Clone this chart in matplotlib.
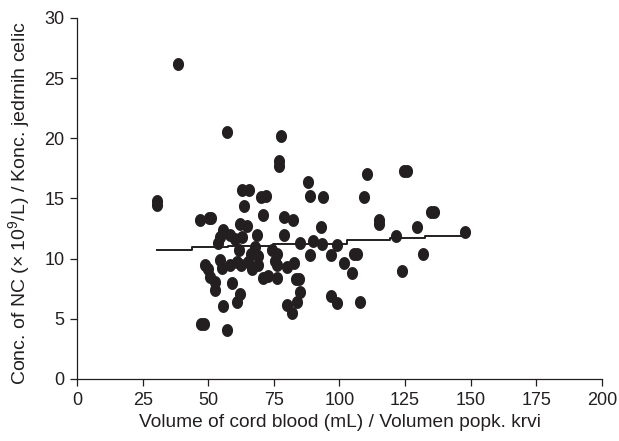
import numpy as np
import matplotlib
matplotlib.use("Agg")
import matplotlib.pyplot as plt
from matplotlib.path import Path

plt.rcParams['font.family'] = ['Liberation Sans', 'DejaVu Sans']
plt.rcParams['mathtext.fontset'] = 'custom'
plt.rcParams['mathtext.rm'] = 'Liberation Sans'
plt.rcParams['mathtext.it'] = 'Liberation Sans:italic'

# cord blood volume (mL) and nucleated cell concentration (x10^9/L)
volume = [
    38.5, 57.0, 77.6, 76.8, 76.8, 30.6, 30.6, 62.8, 65.5, 70.2,
    72.0, 87.9, 88.6, 93.7, 110.5, 124.6, 125.6, 109.2, 115.0, 129.5,
    135.0, 136.0, 147.8, 121.5, 131.8, 123.9, 105.5, 106.5, 101.7, 104.8,
    107.7, 98.9, 96.6, 63.6, 71.0, 79.0, 82.2, 46.9, 50.2, 51.2,
    62.1, 64.6, 68.4, 79.0, 55.7, 54.5, 58.3, 60.2, 93.0, 53.8,
    61.8, 67.8, 74.2, 76.1, 84.8, 90.0, 93.2, 98.9, 88.7, 96.7,
    82.7, 48.8, 50.0, 54.5, 55.4, 58.3, 60.8, 62.4, 65.0, 66.5,
    69.0, 69.0, 75.5, 76.2, 79.9, 50.7, 52.6, 52.6, 58.9, 71.0,
    72.9, 76.1, 83.3, 84.5, 85.0, 62.1, 60.8, 55.5, 79.9, 83.7,
    82.0, 47.3, 48.5, 57.0, 66.3, 63.0, 115.0,
]
conc = [
    26.2, 20.5, 20.2, 18.1, 17.7, 14.8, 14.5, 15.7, 15.7, 15.1,
    15.2, 16.4, 15.2, 15.1, 17.0, 17.3, 17.3, 15.1, 13.2, 12.6,
    13.9, 13.9, 12.2, 11.9, 10.4, 9.0, 10.4, 10.4, 9.6, 8.8,
    6.4, 6.3, 6.9, 14.4, 13.6, 13.5, 13.2, 13.2, 13.4, 13.4,
    12.9, 12.7, 12.0, 12.0, 12.4, 11.8, 12.0, 11.6, 12.6, 11.3,
    10.7, 11.0, 10.7, 10.4, 11.3, 11.5, 11.2, 11.1, 10.3, 10.3,
    9.6, 9.5, 9.1, 9.9, 9.2, 9.5, 9.7, 9.5, 9.75, 9.1,
    10.2, 9.5, 9.8, 9.5, 9.3, 8.5, 8.1, 7.4, 8.0, 8.4,
    8.6, 8.4, 8.3, 8.3, 7.2, 7.1, 6.4, 6.1, 6.15, 6.4,
    5.45, 4.6, 4.6, 4.1, 10.4, 11.8, 12.9,
]

# fitted step line
fit_x = [30.5, 43.8, 57.5, 74.7, 102.9, 119.2, 132.6, 147.8]
fit_y = [10.72, 10.95, 11.08, 11.22, 11.55, 11.75, 11.9, 11.9]

ink = '#231f20'

t = np.linspace(0, 2 * np.pi, 60)
ellipse = Path(np.column_stack([0.86 * np.cos(t), np.sin(t)]), closed=True)

fig = plt.figure(figsize=(6.19, 4.41), dpi=100)
ax = fig.add_axes([0.1244, 0.1406, 0.8481, 0.8186])

ax.plot(volume, conc, linestyle='none', marker=ellipse, markersize=9.3,
        color=ink, markeredgewidth=0, zorder=3)
ax.step(fit_x, fit_y, where='post', color=ink, linewidth=1.4, zorder=2)

ax.set_xlim(0, 200)
ax.set_ylim(0, 30)
ax.set_xticks(np.arange(0, 201, 25))
ax.set_yticks(np.arange(0, 31, 5))

for side in ['top', 'right']:
    ax.spines[side].set_visible(False)
for side in ['left', 'bottom']:
    ax.spines[side].set_color(ink)
    ax.spines[side].set_linewidth(0.9)
ax.tick_params(direction='out', length=5, width=0.9, color=ink,
               labelsize=13, labelcolor=ink)
ax.tick_params(axis='x', pad=4.5)
ax.tick_params(axis='y', pad=4)

ax.set_xlabel('Volume of cord blood (mL) / Volumen popk. krvi',
              fontsize=13.8, color=ink)
ax.xaxis.set_label_coords(0.5, -0.097)

# y label: bottom-anchored like the original, shrunk to stay inside the figure
ylab = fig.text(0.03, 0.127, r'Conc. of NC (× 10$^{9}$/L) / Konc. jedrnih celic',
                rotation=90, ha='center', va='bottom', fontsize=14, color=ink)
fig.canvas.draw()
h = ylab.get_window_extent().height
room = 441 * (1 - 0.127) - 3
if h > room:
    ylab.set_fontsize(14 * room / h)

fig.savefig('out.png', dpi=100)
